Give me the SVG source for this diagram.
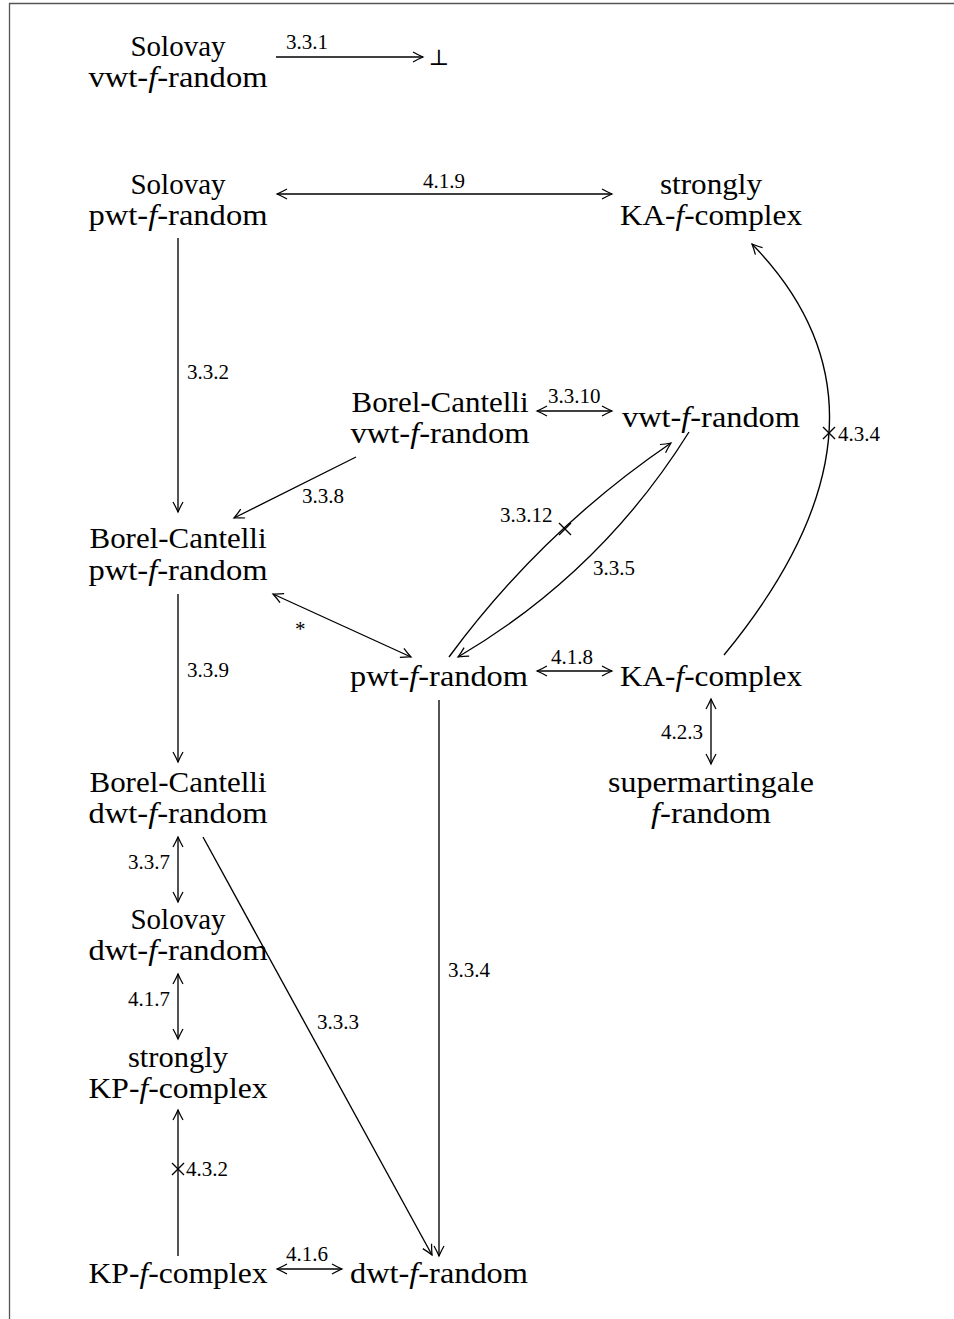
<svg xmlns="http://www.w3.org/2000/svg" width="954" height="1319" viewBox="0 0 954 1319">
  <style>
    .t { font-family: "Liberation Serif", "DejaVu Serif", serif; font-size: 30px; text-anchor: middle; fill: #000; }
    .l { font-family: "Liberation Serif", "DejaVu Serif", serif; font-size: 21px; fill: #000; }
    .r { text-anchor: end; }
    .i { font-style: italic; }
    .e { fill: none; stroke: #000; stroke-width: 1.35; }
    .a { marker-end: url(#tip); }
    .b { marker-start: url(#tip); marker-end: url(#tip); }
    .x { fill: none; stroke: #000; stroke-width: 1.35; }
  </style>
  <defs>
    <marker id="tip" viewBox="-12 -6 14 12" markerWidth="14" markerHeight="12" refX="0" refY="0" orient="auto-start-reverse" markerUnits="userSpaceOnUse">
      <path d="M-10,-5 C-6,-2.7 -2.3,-1 0,0 C-2.3,1 -6,2.7 -10,5" fill="none" stroke="#000" stroke-width="1.25"/>
    </marker>
  </defs>

  <rect width="954" height="1319" fill="#fff"/>
  <!-- frame -->
  <polyline points="9.5,1319 9.5,3.5 954,3.5" fill="none" stroke="#555" stroke-width="1.3"/>

  <!-- nodes -->
  <g id="solovay-vwt">
    <text class="t" x="178" y="56" textLength="95" lengthAdjust="spacingAndGlyphs">Solovay</text>
    <text class="t" x="178" y="87" textLength="179" lengthAdjust="spacingAndGlyphs">vwt-<tspan class="i">f</tspan>-random</text>
  </g>
  <g id="bottom">
    <text x="439" y="65" style="font-family: 'DejaVu Serif', serif; font-size: 22px; text-anchor: middle;">⊥</text>
  </g>
  <g id="solovay-pwt">
    <text class="t" x="178" y="194" textLength="95" lengthAdjust="spacingAndGlyphs">Solovay</text>
    <text class="t" x="178" y="225" textLength="179" lengthAdjust="spacingAndGlyphs">pwt-<tspan class="i">f</tspan>-random</text>
  </g>
  <g id="strongly-ka">
    <text class="t" x="711" y="194" textLength="102" lengthAdjust="spacingAndGlyphs">strongly</text>
    <text class="t" x="711" y="225" textLength="182" lengthAdjust="spacingAndGlyphs">KA-<tspan class="i">f</tspan>-complex</text>
  </g>
  <g id="bc-vwt">
    <text class="t" x="440" y="412" textLength="177" lengthAdjust="spacingAndGlyphs">Borel-Cantelli</text>
    <text class="t" x="440" y="443" textLength="179" lengthAdjust="spacingAndGlyphs">vwt-<tspan class="i">f</tspan>-random</text>
  </g>
  <g id="vwt">
    <text class="t" x="711" y="427" textLength="178" lengthAdjust="spacingAndGlyphs">vwt-<tspan class="i">f</tspan>-random</text>
  </g>
  <g id="bc-pwt">
    <text class="t" x="178" y="548" textLength="177" lengthAdjust="spacingAndGlyphs">Borel-Cantelli</text>
    <text class="t" x="178" y="580" textLength="179" lengthAdjust="spacingAndGlyphs">pwt-<tspan class="i">f</tspan>-random</text>
  </g>
  <g id="pwt">
    <text class="t" x="439" y="686" textLength="178" lengthAdjust="spacingAndGlyphs">pwt-<tspan class="i">f</tspan>-random</text>
  </g>
  <g id="ka">
    <text class="t" x="711" y="686" textLength="182" lengthAdjust="spacingAndGlyphs">KA-<tspan class="i">f</tspan>-complex</text>
  </g>
  <g id="supermartingale">
    <text class="t" x="711" y="792" textLength="206" lengthAdjust="spacingAndGlyphs">supermartingale</text>
    <text class="t" x="711" y="823" textLength="120" lengthAdjust="spacingAndGlyphs"><tspan class="i">f</tspan>-random</text>
  </g>
  <g id="bc-dwt">
    <text class="t" x="178" y="792" textLength="177" lengthAdjust="spacingAndGlyphs">Borel-Cantelli</text>
    <text class="t" x="178" y="823" textLength="179" lengthAdjust="spacingAndGlyphs">dwt-<tspan class="i">f</tspan>-random</text>
  </g>
  <g id="solovay-dwt">
    <text class="t" x="178" y="929" textLength="95" lengthAdjust="spacingAndGlyphs">Solovay</text>
    <text class="t" x="178" y="960" textLength="179" lengthAdjust="spacingAndGlyphs">dwt-<tspan class="i">f</tspan>-random</text>
  </g>
  <g id="strongly-kp">
    <text class="t" x="178" y="1067" textLength="100" lengthAdjust="spacingAndGlyphs">strongly</text>
    <text class="t" x="178" y="1098" textLength="179" lengthAdjust="spacingAndGlyphs">KP-<tspan class="i">f</tspan>-complex</text>
  </g>
  <g id="kp">
    <text class="t" x="178" y="1283" textLength="179" lengthAdjust="spacingAndGlyphs">KP-<tspan class="i">f</tspan>-complex</text>
  </g>
  <g id="dwt">
    <text class="t" x="439" y="1283" textLength="178" lengthAdjust="spacingAndGlyphs">dwt-<tspan class="i">f</tspan>-random</text>
  </g>

  <!-- connectors -->
  <g id="connectors">
    <line class="e a" x1="276" y1="57" x2="423" y2="57"/>
    <text class="l" x="286" y="49">3.3.1</text>

    <line class="e b" x1="277" y1="194" x2="612" y2="194"/>
    <text class="l" x="423" y="188">4.1.9</text>

    <line class="e a" x1="178" y1="238" x2="178" y2="512"/>
    <text class="l" x="187" y="379">3.3.2</text>

    <line class="e b" x1="537" y1="411" x2="612" y2="411"/>
    <text class="l" x="548" y="403">3.3.10</text>

    <line class="e a" x1="356" y1="457" x2="234" y2="518"/>
    <text class="l" x="302" y="503">3.3.8</text>

    <!-- pwt to vwt, refuted -->
    <path class="e a" d="M449,657 Q541.7,531.1 671,443"/>
    <path class="x" d="M559,523 L571,535 M571,523 L559,535"/>
    <text class="l" x="500" y="522">3.3.12</text>

    <!-- vwt to pwt -->
    <path class="e a" d="M689,432 Q601,573 458,657"/>
    <text class="l" x="593" y="575">3.3.5</text>

    <!-- KA-complex to strongly KA-complex, refuted -->
    <path class="e a" d="M724,655 Q920,416.5 752,244"/>
    <path class="x" d="M823,427 L835,439 M835,427 L823,439"/>
    <text class="l" x="838" y="441">4.3.4</text>

    <line class="e b" x1="273" y1="594" x2="411" y2="657"/>
    <text class="l" x="295" y="636">*</text>

    <line class="e a" x1="178" y1="594" x2="178" y2="762"/>
    <text class="l" x="187" y="677">3.3.9</text>

    <line class="e b" x1="537" y1="671" x2="612" y2="671"/>
    <text class="l" x="551" y="664">4.1.8</text>

    <line class="e b" x1="711" y1="699" x2="711" y2="764"/>
    <text class="l r" x="703" y="739">4.2.3</text>

    <line class="e a" x1="439" y1="700" x2="439" y2="1256"/>
    <text class="l" x="448" y="977">3.3.4</text>

    <line class="e b" x1="178" y1="837" x2="178" y2="902"/>
    <text class="l r" x="170" y="869">3.3.7</text>

    <line class="e b" x1="178" y1="974" x2="178" y2="1039"/>
    <text class="l r" x="170" y="1006">4.1.7</text>

    <line class="e a" x1="203" y1="837" x2="432" y2="1255"/>
    <text class="l" x="317" y="1029">3.3.3</text>

    <!-- KP-complex to strongly KP-complex, refuted -->
    <line class="e a" x1="178" y1="1256" x2="178" y2="1110"/>
    <path class="x" d="M172,1163 L184,1175 M184,1163 L172,1175"/>
    <text class="l" x="186" y="1176">4.3.2</text>

    <line class="e b" x1="277" y1="1269" x2="342" y2="1269"/>
    <text class="l" x="286" y="1261">4.1.6</text>
  </g>
</svg>
